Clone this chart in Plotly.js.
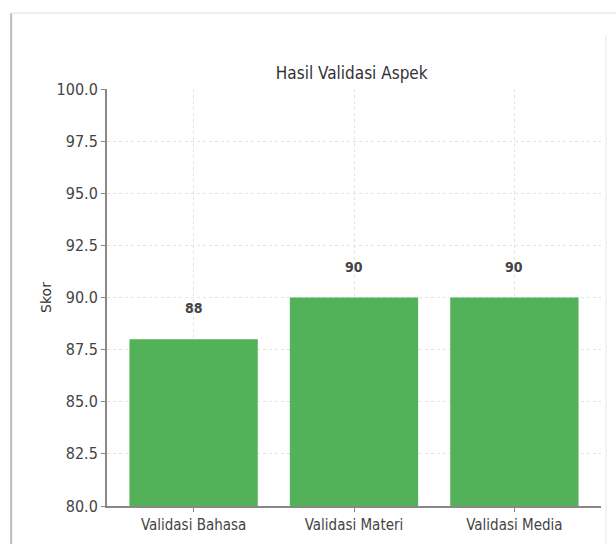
<!DOCTYPE html>
<html>
<head>
<meta charset="utf-8">
<script src="https://cdn.plot.ly/plotly-3.0.1.min.js"></script>
<style>html,body{margin:0;padding:0;background:#fff;}#chart{width:616px;height:544px;}</style>
</head>
<body>
<div id="chart"></div>
<script>
const categories = ["Validasi Bahasa", "Validasi Materi", "Validasi Media"];
const scores = [88, 90, 90];
const yTicks = [80, 82.5, 85, 87.5, 90, 92.5, 95, 97.5, 100];
const yTickLabels = ["80.0", "82.5", "85.0", "87.5", "90.0", "92.5", "95.0", "97.5", "100.0"];

const xIdx = categories.map((c, i) => i);
const font = "DejaVu Sans Condensed, DejaVu Sans, sans-serif";

const data = [{
  type: "bar",
  x: xIdx,
  y: scores.map(v => v - 80),
  base: 80,
  width: 0.8,
  marker: {color: "#52b159"},
  hoverinfo: "skip"
}];

const annotations = scores.map((v, i) => ({
  x: i, y: v + 1, xref: "x", yref: "y",
  text: String(v), showarrow: false, yanchor: "bottom",
  font: {family: font, size: 14, color: "#444", weight: "bold"}
}));

const layout = {
  width: 616, height: 544,
  margin: {l: 107, r: 15, t: 89, b: 38},
  paper_bgcolor: "#fff", plot_bgcolor: "#fff",
  showlegend: false,
  title: {text: "Hasil Validasi Aspek", x: 0.571, xanchor: "center", y: 0.865, yanchor: "middle",
          font: {family: font, size: 17, color: "#333"}},
  xaxis: {
    range: [-0.54, 2.54], tickmode: "array", tickvals: xIdx, ticktext: categories,
    showgrid: true, gridcolor: "#e3e3e3", griddash: "dot", gridwidth: 1,
    showline: true, linecolor: "#888", linewidth: 2,
    ticks: "outside", ticklen: 4, tickcolor: "#888",
    tickfont: {family: font, size: 15, color: "#444"}, zeroline: false, fixedrange: true
  },
  yaxis: {
    range: [80, 100], tickmode: "array", tickvals: yTicks, ticktext: yTickLabels,
    showgrid: true, gridcolor: "#e3e3e3", griddash: "dot", gridwidth: 1,
    showline: true, linecolor: "#888", linewidth: 2,
    ticks: "outside", ticklen: 4, tickcolor: "#888",
    tickfont: {family: font, size: 16, color: "#444"}, zeroline: false,
    title: {text: "Skor", standoff: 2, font: {family: "DejaVu Sans, sans-serif", size: 14, color: "#333"}},
    fixedrange: true
  },
  annotations: annotations,
  shapes: [
    {type: "line", xref: "paper", yref: "paper", x0: -0.194, x1: -0.194, y0: -0.1, y1: 1.182,
     line: {color: "#bbb", width: 2}},
    {type: "line", xref: "paper", yref: "paper", x0: -0.194, x1: 1.03, y0: 1.182, y1: 1.182,
     line: {color: "#eee", width: 2}},
    {type: "line", xref: "paper", yref: "paper", x0: 1.01, x1: 1.01, y0: -0.1, y1: 1.13,
     line: {color: "#f3f3f3", width: 2}}
  ]
};

Plotly.newPlot("chart", data, layout, {displayModeBar: false, staticPlot: true});
</script>
</body>
</html>
